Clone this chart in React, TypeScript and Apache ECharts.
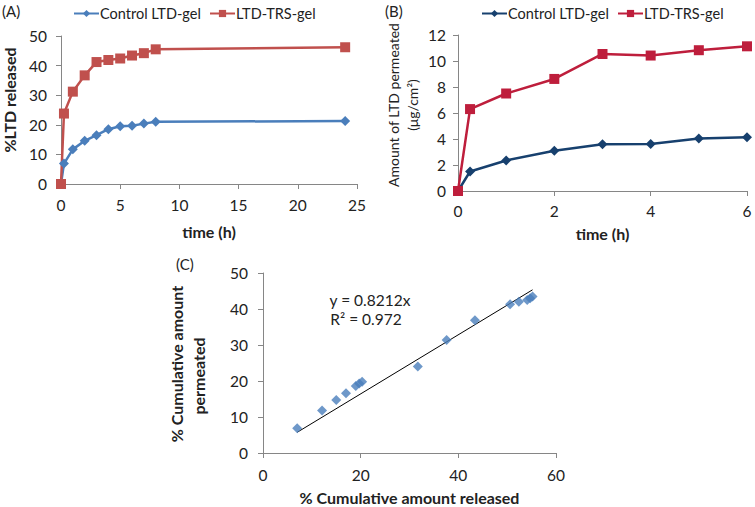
import React, { useEffect, useRef } from "react";
import * as echarts from "echarts";

const timeA = [0, 0.25, 1, 2, 3, 4, 5, 6, 7, 8, 24];
const controlA = [0, 6.9, 11.7, 14.6, 16.5, 18.5, 19.5, 19.7, 20.4, 21.0, 21.3];
const trsA = [0, 23.8, 31.2, 36.7, 41.2, 41.9, 42.4, 43.4, 44.2, 45.5, 46.2];

const timeB = [0, 0.25, 1, 2, 3, 4, 5, 6];
const controlB = [0, 1.5, 2.35, 3.1, 3.6, 3.62, 4.03, 4.13];
const trsB = [0, 6.3, 7.5, 8.62, 10.54, 10.42, 10.83, 11.13];

const releasedC = [7.0, 12.1, 15.0, 17.0, 19.0, 19.7, 20.3, 31.7, 37.6, 43.4, 50.6, 52.4, 54.1, 54.7, 55.2];
const permeatedC = [6.9, 11.8, 14.7, 16.6, 18.6, 19.3, 19.8, 24.0, 31.4, 36.9, 41.3, 42.0, 42.5, 43.0, 43.5];
const slopeC = 0.8212;
const r2C = 0.972;

const FONT = "Lato";
const AX = "#868686";
const TXT = "#222";

const pairs = (xs: number[], ys: number[]) => xs.map((x, i) => [x, ys[i]]);

export default function App() {
  const ref = useRef<HTMLDivElement>(null);
  useEffect(() => {
    const chart = echarts.init(ref.current!, null, { renderer: "svg" });
    const axisCommon = (margin: number) => ({
      axisLine: { show: true, lineStyle: { color: AX, width: 1 } },
      axisTick: { show: true, inside: false, length: 5, lineStyle: { color: AX } },
      splitLine: { show: false },
      axisLabel: { color: TXT, fontSize: 15.5, fontFamily: FONT, margin },
    });
    const boldName = { color: TXT, fontSize: 16, fontWeight: "bold" as const, fontFamily: FONT };
    const xMin = Math.min(...releasedC);
    const xMax = Math.max(...releasedC);
    const legendBase = {
      top: 1,
      itemWidth: 25,
      itemHeight: 9,
      textStyle: { color: TXT, fontSize: 14.5, fontFamily: FONT, padding: [0, 0, 0, -4] },
      formatter: (n: string) => n.trim(),
    };
    chart.setOption({
      animation: false,
      backgroundColor: "#fff",
      grid: [
        { left: 61, top: 36, width: 296, height: 148, outerBoundsMode: "none", containLabel: false },
        { left: 458, top: 35, width: 289, height: 156, outerBoundsMode: "none", containLabel: false },
        { left: 263, top: 273, width: 293, height: 180, outerBoundsMode: "none", containLabel: false },
      ],
      xAxis: [
        { ...axisCommon(13), type: "value", gridIndex: 0, min: 0, max: 25, interval: 5,
          name: "time (h)", nameLocation: "middle", nameGap: 39, nameTextStyle: boldName },
        { ...axisCommon(12), type: "value", gridIndex: 1, min: 0, max: 6, interval: 2,
          name: "time (h)", nameLocation: "middle", nameGap: 34, nameTextStyle: boldName },
        { ...axisCommon(14), type: "value", gridIndex: 2, min: 0, max: 60, interval: 20,
          name: "% Cumulative amount released", nameLocation: "middle", nameGap: 36, nameTextStyle: boldName },
      ],
      yAxis: [
        { ...axisCommon(14), type: "value", gridIndex: 0, min: 0, max: 50, interval: 10 },
        { ...axisCommon(12), type: "value", gridIndex: 1, min: 0, max: 12, interval: 2 },
        { ...axisCommon(15), type: "value", gridIndex: 2, min: 0, max: 50, interval: 10 },
      ],
      legend: [
        { ...legendBase, left: 68, data: ["Control LTD-gel"] },
        { ...legendBase, left: 204, data: ["LTD-TRS-gel"] },
        { ...legendBase, left: 476, data: ["Control LTD-gel "] },
        { ...legendBase, left: 612, data: ["LTD-TRS-gel "] },
      ],
      series: [
        { type: "line", name: "Control LTD-gel", xAxisIndex: 0, yAxisIndex: 0,
          data: pairs(timeA, controlA), color: "#4A7EBB", lineStyle: { width: 2.5 },
          symbol: "diamond", symbolSize: 10 },
        { type: "line", name: "LTD-TRS-gel", xAxisIndex: 0, yAxisIndex: 0,
          data: pairs(timeA, trsA), color: "#C0504D", lineStyle: { width: 2.5 },
          symbol: "rect", symbolSize: 10 },
        { type: "line", name: "Control LTD-gel ", xAxisIndex: 1, yAxisIndex: 1,
          data: pairs(timeB, controlB), color: "#17406E", lineStyle: { width: 2.5 },
          symbol: "diamond", symbolSize: 10 },
        { type: "line", name: "LTD-TRS-gel ", xAxisIndex: 1, yAxisIndex: 1,
          data: pairs(timeB, trsB), color: "#BE1E3C", lineStyle: { width: 2.5 },
          symbol: "rect", symbolSize: 10 },
        { type: "line", name: "trend", xAxisIndex: 2, yAxisIndex: 2,
          data: [[xMin, xMin * slopeC], [xMax, xMax * slopeC]], color: "#000",
          lineStyle: { width: 1 }, symbol: "none", z: 1 },
        { type: "scatter", name: "points", xAxisIndex: 2, yAxisIndex: 2,
          data: pairs(releasedC, permeatedC), color: "#4A7EBB",
          symbol: "diamond", symbolSize: 10, z: 2 },
      ],
      graphic: [
        { type: "text", left: 2, top: 3, style: { text: "(A)", fontSize: 15, fontFamily: FONT, fill: TXT } },
        { type: "text", left: 385, top: 3, style: { text: "(B)", fontSize: 15, fontFamily: FONT, fill: TXT } },
        { type: "text", left: 176, top: 256, style: { text: "(C)", fontSize: 15, fontFamily: FONT, fill: TXT } },
        { type: "text", x: 9, y: 100, rotation: Math.PI / 2,
          style: { text: "%LTD released", fontSize: 16, fontWeight: "bold", fontFamily: FONT, fill: TXT,
            align: "center", verticalAlign: "middle" } },
        { type: "text", x: 393, y: 105, rotation: Math.PI / 2,
          style: { text: "Amount of LTD permeated", fontSize: 14, fontFamily: FONT, fill: TXT,
            align: "center", verticalAlign: "middle" } },
        { type: "text", x: 412, y: 105, rotation: Math.PI / 2,
          style: { text: "(μg/cm²)", fontSize: 14, fontFamily: FONT, fill: TXT,
            align: "center", verticalAlign: "middle" } },
        { type: "text", x: 176, y: 364, rotation: Math.PI / 2,
          style: { text: "% Cumulative amount", fontSize: 16, fontWeight: "bold", fontFamily: FONT, fill: TXT,
            align: "center", verticalAlign: "middle" } },
        { type: "text", x: 198, y: 376, rotation: Math.PI / 2,
          style: { text: "permeated", fontSize: 16, fontWeight: "bold", fontFamily: FONT, fill: TXT,
            align: "center", verticalAlign: "middle" } },
        { type: "text", x: 370, y: 300,
          style: { text: "y = " + slopeC + "x", fontSize: 15.5, fontFamily: FONT, fill: TXT,
            align: "center", verticalAlign: "middle" } },
        { type: "text", x: 366, y: 319,
          style: { text: "R² = " + r2C, fontSize: 15.5, fontFamily: FONT, fill: TXT,
            align: "center", verticalAlign: "middle" } },
      ],
    });
    return () => chart.dispose();
  }, []);
  return <div ref={ref} style={{ width: 755, height: 507, position: "absolute", left: 0, top: 0 }} />;
}
